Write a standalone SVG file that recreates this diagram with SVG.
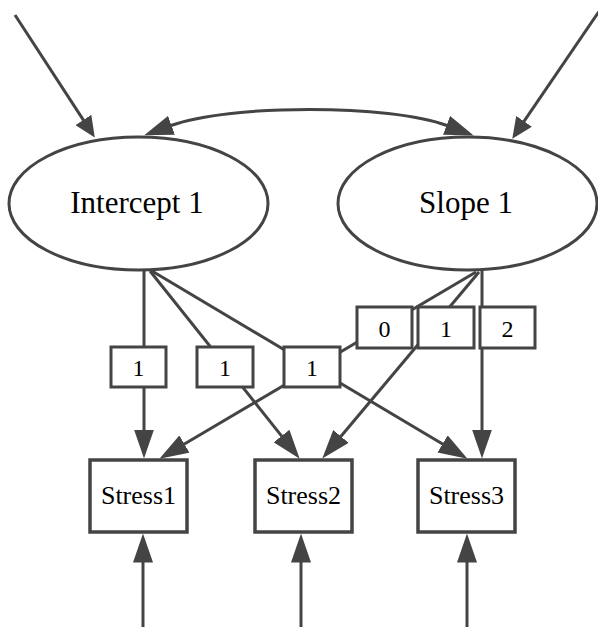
<svg xmlns="http://www.w3.org/2000/svg" width="598" height="627" viewBox="0 0 598 627">
  <style>
    .edge { fill: none; stroke: #444; stroke-width: 3; }
    .latent { fill: #fff; stroke: #444; stroke-width: 3; }
    .observed { fill: #fff; stroke: #444; stroke-width: 3.5; }
    .label { fill: #fff; stroke: #444; stroke-width: 3; }
    text { font-family: "Liberation Serif", "Times New Roman", serif; fill: #000; text-anchor: middle; }
    .big { font-size: 31px; }
    .mid { font-size: 26px; }
    .small { font-size: 24px; }
  </style>
  <defs>
    <!-- arrowheads: reference point sits on the base so each line stops where the head begins -->
    <marker id="head" viewBox="0 0 29 20" refX="0.5" refY="10" markerWidth="29" markerHeight="20" markerUnits="userSpaceOnUse" orient="auto-start-reverse">
      <path d="M0,0 L29,10 L0,20 z" fill="#444"/>
    </marker>
    <marker id="headSmall" viewBox="0 0 21 19" refX="0.5" refY="9.5" markerWidth="21" markerHeight="19" markerUnits="userSpaceOnUse" orient="auto">
      <path d="M0,0 L21,9.5 L0,19 z" fill="#444"/>
    </marker>
  </defs>

  <g id="connectors">
    <!-- disturbances into the growth factors -->
    <path class="edge" d="M15,15 L83.6,120.4" marker-end="url(#headSmall)"/>
    <path class="edge" d="M603,5.5 L523.8,121.7" marker-end="url(#headSmall)"/>
    <!-- covariance between intercept and slope -->
    <path class="edge" d="M171,125.5 C230,104 390,104 447,125.5" marker-start="url(#head)" marker-end="url(#head)"/>
    <!-- intercept loadings -->
    <path class="edge" d="M144,270 L144,430" marker-end="url(#head)"/>
    <path class="edge" d="M150,271 L281.9,436.4" marker-end="url(#head)"/>
    <path class="edge" d="M152,271 L443,444.2" marker-end="url(#head)"/>
    <!-- slope loadings -->
    <path class="edge" d="M476,272 L184,444.3" marker-end="url(#head)"/>
    <path class="edge" d="M479,272 L340.6,436.8" marker-end="url(#head)"/>
    <path class="edge" d="M482,271 L482,430" marker-end="url(#head)"/>
    <!-- residuals into the indicators -->
    <path class="edge" d="M143,627 L143,562" marker-end="url(#head)"/>
    <path class="edge" d="M301,627 L301,562" marker-end="url(#head)"/>
    <path class="edge" d="M467,627 L467,562" marker-end="url(#head)"/>
  </g>

  <g id="loading-i1">
    <rect class="label" x="111" y="347" width="55" height="40"/>
    <text class="small" x="138.5" y="376">1</text>
  </g>
  <g id="loading-i2">
    <rect class="label" x="197" y="347" width="56" height="40"/>
    <text class="small" x="225" y="376">1</text>
  </g>
  <g id="loading-i3">
    <rect class="label" x="284" y="347" width="56" height="40"/>
    <text class="small" x="312" y="376">1</text>
  </g>
  <g id="loading-s1">
    <rect class="label" x="357" y="307" width="55" height="41"/>
    <text class="small" x="384.5" y="337">0</text>
  </g>
  <g id="loading-s2">
    <rect class="label" x="418" y="307" width="56" height="41"/>
    <text class="small" x="446" y="337">1</text>
  </g>
  <g id="loading-s3">
    <rect class="label" x="480" y="307" width="55" height="41"/>
    <text class="small" x="507.5" y="337">2</text>
  </g>

  <g id="intercept">
    <ellipse class="latent" cx="138.5" cy="203.5" rx="129.5" ry="66.5"/>
    <text class="big" x="137" y="213">Intercept 1</text>
  </g>
  <g id="slope">
    <ellipse class="latent" cx="467.5" cy="203.5" rx="129.5" ry="66.5"/>
    <text class="big" x="466" y="213">Slope 1</text>
  </g>

  <g id="stress1">
    <rect class="observed" x="90" y="460" width="97" height="72"/>
    <text class="mid" x="138.5" y="504">Stress1</text>
  </g>
  <g id="stress2">
    <rect class="observed" x="255" y="460" width="97" height="72"/>
    <text class="mid" x="303.5" y="504">Stress2</text>
  </g>
  <g id="stress3">
    <rect class="observed" x="418" y="460" width="97" height="72"/>
    <text class="mid" x="466.5" y="504">Stress3</text>
  </g>
</svg>
